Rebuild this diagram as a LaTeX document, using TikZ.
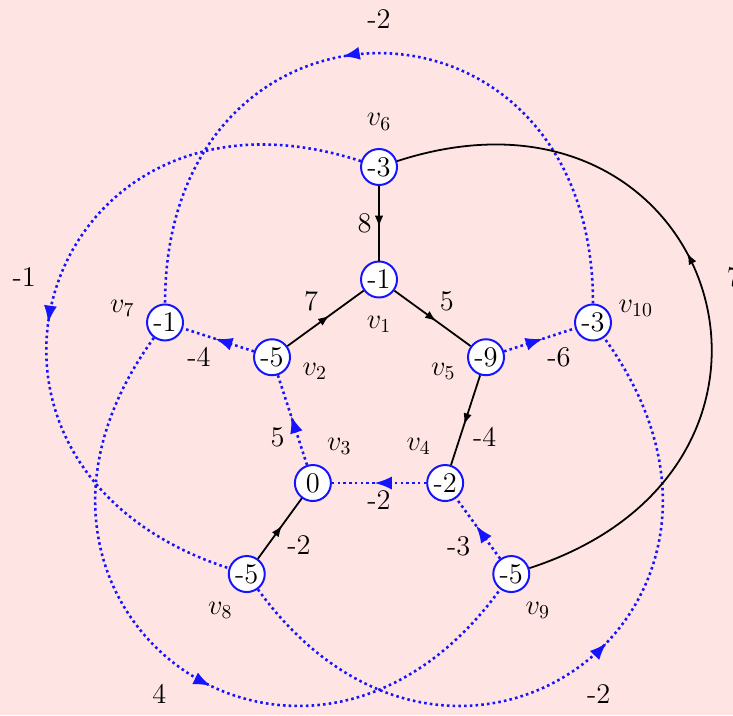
\documentclass[tikz,border=0pt]{standalone}
\usepackage{xcolor}
\usepackage{tikz}
\usetikzlibrary{arrows.meta, calc, decorations.markings}
\definecolor{bgpink}{RGB}{255, 228, 228}
\definecolor{vertexblue}{RGB}{20, 20, 255}

\begin{document}
\begin{tikzpicture}[
			font=\Large,
			vertex/.style={circle, draw=vertexblue, fill=white, line width=1pt, minimum size=0.64cm, inner sep=0pt},
			vlabel/.style={font=\Large},
			wlabel/.style={text=black},
			solidedge/.style={line width=0.9pt, postaction={decorate}, decoration={markings, mark=at position 0.55 with {\arrow{Latex[length=2mm]}}}},
			dottededge/.style={vertexblue, dash pattern=on 1.3pt off 1.6pt, line width=1.3pt, postaction={decorate}, decoration={markings, mark=at position 0.55 with {\arrow{Latex}}}}
		]
		% Background and frame
		\path[use as bounding box, fill=bgpink] (-6.738,-5.742) rectangle (6.293,6.969);
		
		% Inner vertices
		\node[vertex] (v1) at (90:2) {-1};
		\node[vertex] (v2) at (162:2) {-5};
		\node[vertex] (v3) at (234:2) {0};
		\node[vertex] (v4) at (306:2) {-2};
		\node[vertex] (v5) at (18:2) {-9};
		
		% Outer vertices
		\node[vertex] (v6) at (90:4) {-3};
		\node[vertex] (v7) at (162:4) {-1};
		\node[vertex] (v8) at (234:4) {-5};
		\node[vertex] (v9) at (306:4) {-5};
		\node[vertex] (v10) at (18:4) {-3};
		
		% Vertex names
		\foreach \v/\a in {1/270, 2/-18, 3/54, 4/126, 5/198, 6/90, 7/162, 8/234, 9/306, 10/18}
			\node[vlabel] (l\v) at ($(v\v)+(\a:0.8)$) {$v_{\v}$};
		
		% Solid edges
		\draw[solidedge] (v6) -- node[wlabel, left] (w61) {8} (v1);
		\draw[solidedge] (v2) -- node[wlabel, above left] (w21) {7} (v1);
		\draw[solidedge] (v1) -- node[wlabel, above right] (w15) {5} (v5);
		\draw[solidedge] (v5) -- node[wlabel, below right] (w54) {-4} (v4);
		\draw[solidedge] (v8) -- node[wlabel, below right] (w83) {-2} (v3);
		
		% Dotted edges
		\draw[dottededge] (v2) -- node[wlabel, below left] (w27) {-4} (v7);
		\draw[dottededge] (v5) -- node[wlabel, below right] (w510) {-6} (v10);
		\draw[dottededge] (v3) -- node[wlabel, below left] (w32) {5} (v2);
		\draw[dottededge] (v4) -- node[wlabel, below] (w43) {-2} (v3);
		\draw[dottededge] (v9) -- node[wlabel, below left] (w94) {-3} (v4);
		
		% Outer curves
		\draw[dottededge] (v10) to[out=90, in=90, looseness=2] node[wlabel, midway, shift={(90:0.6)}] (w107) {-2} (v7);
		\draw[dottededge] (v6) to[out=162, in=162, looseness=2] node[wlabel, midway, shift={(162:0.6)}] (w68) {-1} (v8);
		\draw[dottededge] (v7) to[out=234, in=234, looseness=2] node[wlabel, midway, shift={(234:0.6)}] (w79) {4} (v9);
		\draw[dottededge] (v8) to[out=306, in=306, looseness=2] node[wlabel, midway, shift={(306:0.6)}] (w810) {-2} (v10);
		\draw[solidedge] (v9) to[out=18, in=18, looseness=2] node[wlabel, midway, shift={(18:0.6)}] (w96) {7} (v6);
\end{tikzpicture}
\end{document}
